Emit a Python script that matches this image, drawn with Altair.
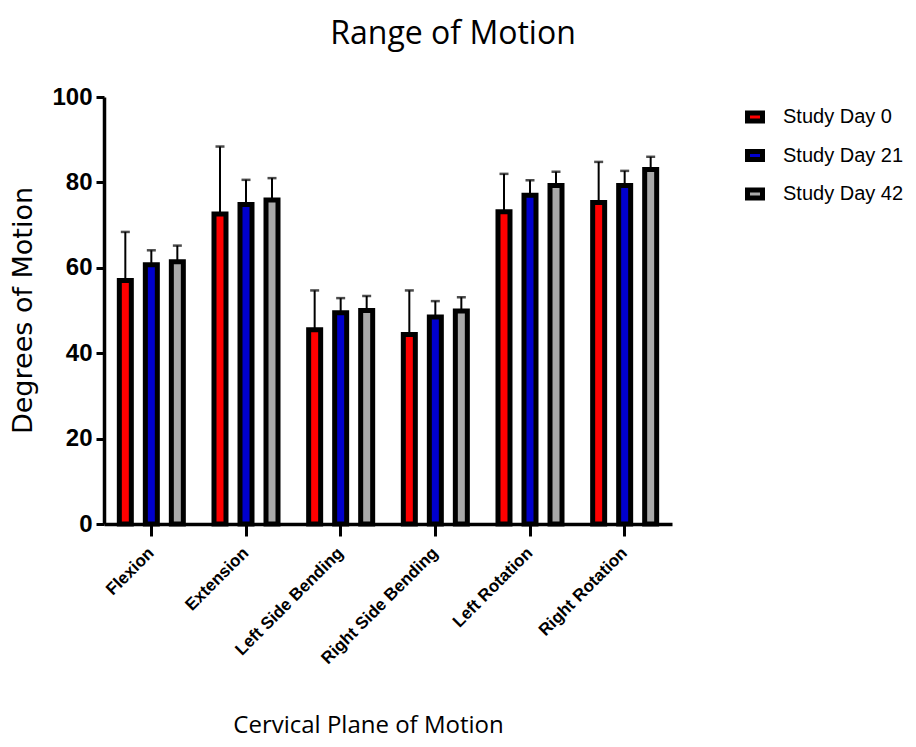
import altair as alt
import pandas as pd

categories = ["Flexion", "Extension", "Left Side Bending", "Right Side Bending",
              "Left Rotation", "Right Rotation"]
series = ["Study Day 0", "Study Day 21", "Study Day 42"]
colors = ["#ff0000", "#0000cc", "#a9a9a9"]

day0_mean = [57.0, 72.6, 45.5, 44.4, 73.1, 75.3]
day0_sd = [11.4, 15.8, 9.2, 10.3, 8.9, 9.5]
day21_mean = [60.7, 74.8, 49.5, 48.5, 77.0, 79.3]
day21_sd = [3.4, 5.8, 3.4, 3.7, 3.5, 3.4]
day42_mean = [61.4, 75.9, 50.0, 49.9, 79.3, 83.0]
day42_sd = [3.8, 5.1, 3.4, 3.2, 3.2, 3.0]

rows = []
for s, means, sds in zip(series, [day0_mean, day21_mean, day42_mean],
                         [day0_sd, day21_sd, day42_sd]):
    for c, m, sd in zip(categories, means, sds):
        rows.append({"cat": c, "series": s, "mean": m, "top": m + sd})
df = pd.DataFrame(rows)

x_enc = alt.X("cat:N", sort=categories,
              scale=alt.Scale(paddingInner=0, paddingOuter=0),
              axis=alt.Axis(title="Cervical Plane of Motion", labelAngle=-45,
                            labelAlign="right", labelBaseline="middle",
                            labelFont="Liberation Sans", labelFontWeight="bold",
                            labelFontSize=17, labelColor="black", labelPadding=14,
                            tickSize=12, tickWidth=3, tickColor="black",
                            domainWidth=3.5, domainColor="black",
                            titleFont="Open Sans", titleFontSize=24,
                            titleFontWeight="normal", titleColor="black",
                            titleX=264, titleY=201, titleBaseline="middle",
                            titleAnchor="middle"))
xoff = alt.XOffset("series:N", sort=series,
                   scale=alt.Scale(paddingInner=0, paddingOuter=0.32))
y_enc = alt.Y("mean:Q", scale=alt.Scale(domain=[0, 100]),
              axis=alt.Axis(title="Degrees of Motion", values=[0, 20, 40, 60, 80, 100],
                            grid=False, labelFont="Liberation Sans",
                            labelFontWeight="bold", labelFontSize=24,
                            labelColor="black", labelPadding=4,
                            tickSize=8, tickWidth=3, tickColor="black",
                            domainWidth=3.5, domainColor="black",
                            titleFont="DejaVu Sans", titleFontSize=27,
                            titleFontWeight="normal", titleColor="black",
                            titleX=-81, titleY=213, titleAngle=-90,
                            titleAlign="center", titleBaseline="middle"))

color_enc = alt.Color("series:N", sort=series,
                      scale=alt.Scale(domain=series, range=colors),
                      legend=alt.Legend(title=None, orient="none",
                                        legendX=641, legendY=10,
                                        symbolType="M-1.875,-1H1.875V1H-1.875Z",
                                        symbolSize=64, symbolStrokeColor="black",
                                        symbolStrokeWidth=5, symbolOpacity=1,
                                        labelFont="Liberation Sans", labelFontSize=20,
                                        labelColor="black", labelOffset=18,
                                        rowPadding=10.5))

err = alt.Chart(df).mark_rule(color="black", strokeWidth=2).encode(
    x=x_enc, xOffset=xoff, y="mean:Q", y2="top:Q")
cap = alt.Chart(df).mark_tick(color="black", thickness=2.5, size=9, orient="horizontal").encode(
    x=x_enc, xOffset=xoff, y="top:Q")
bars = alt.Chart(df).mark_bar(size=12, stroke="black", strokeWidth=5, opacity=1).encode(
    x=x_enc, xOffset=xoff, y=y_enc, color=color_enc)

chart = alt.layer(err, cap, bars).properties(
    width=568, height=427,
    autosize=alt.AutoSizeParams(type="none"),
    padding={"left": 96, "top": 89, "right": 236, "bottom": 215},
    title=alt.TitleParams("Range of Motion", font="Open Sans", fontSize=32,
                          fontWeight="normal", color="black", anchor="middle",
                          frame="group", dx=65, offset=34),
).configure_view(stroke=None)

chart.save("out.html", embed_options={"renderer": "svg", "actions": False})
